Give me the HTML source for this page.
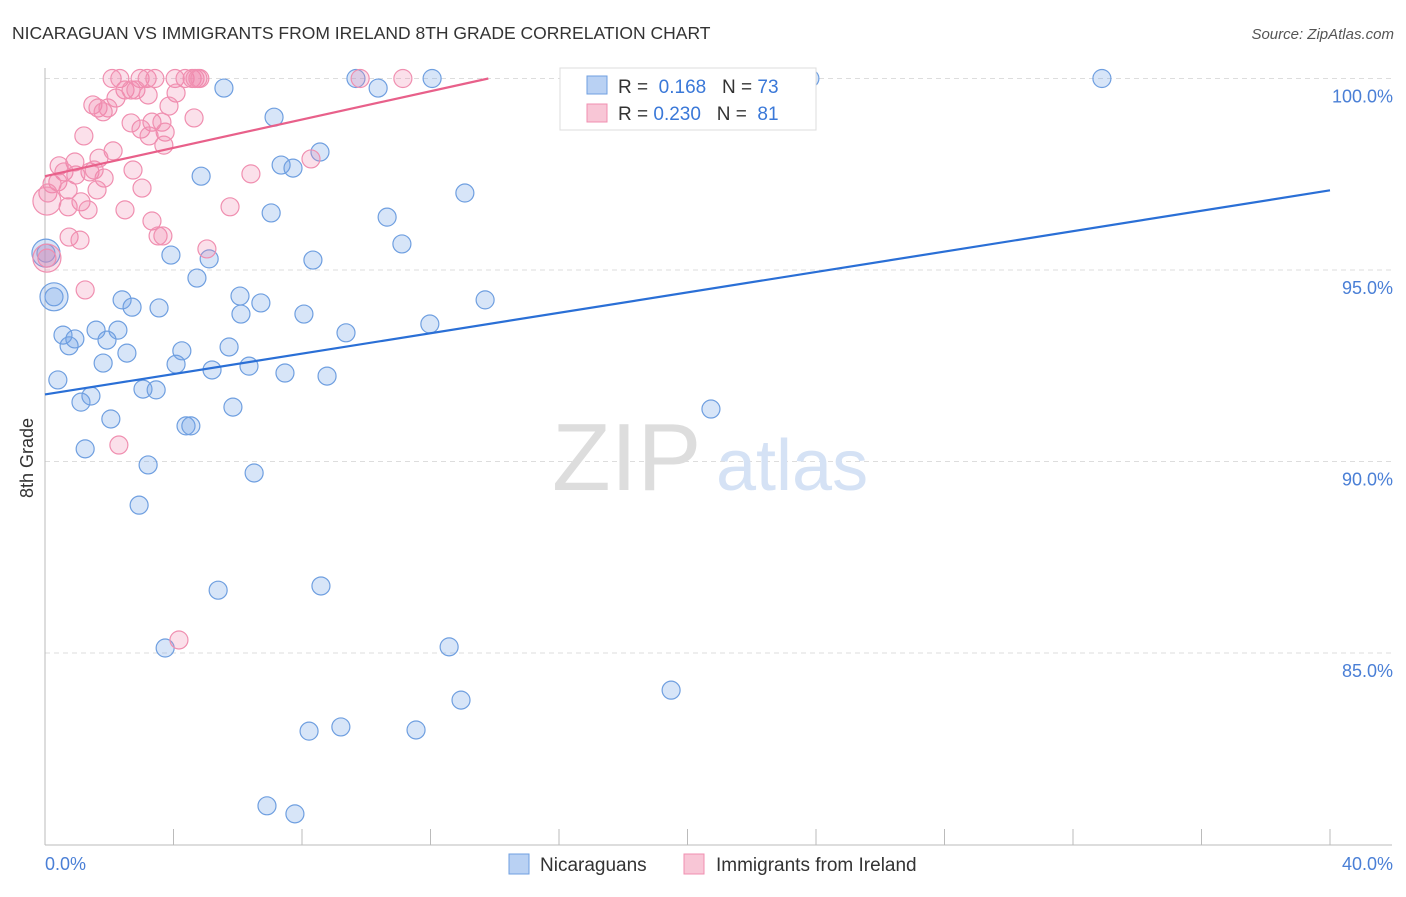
<!DOCTYPE html>
<html><head><meta charset="utf-8"><style>
body{margin:0;background:#fff;font-family:"Liberation Sans",sans-serif}
svg text{font-family:"Liberation Sans",sans-serif}
</style></head><body>
<svg id="c" width="1406" height="892">
<text x="12" y="39" font-size="17.5" fill="#333">NICARAGUAN VS IMMIGRANTS FROM IRELAND 8TH GRADE CORRELATION CHART</text>
<text x="1394" y="39" font-size="15" fill="#555" text-anchor="end" font-style="italic">Source: ZipAtlas.com</text>
<text x="33" y="458" font-size="18" fill="#333" transform="rotate(-90 33 458)" text-anchor="middle">8th Grade</text>
<g id="grid"></g>
<g id="axes"></g>
<text x="552" y="490" font-size="96" fill="#ddd" font-family="Liberation Serif">ZIP</text>
<text x="716" y="490" font-size="72" fill="#d5e2f5">atlas</text>
<g id="pts"></g>
<g id="lines"></g>
<g>
<rect x="560" y="68" width="256" height="62" fill="#fff" stroke="#ddd"/>
<rect x="587" y="76" width="20" height="18" fill="#b9d1f3" stroke="#6f9fe0"/>
<text x="618" y="93" font-size="19" fill="#333">R = <tspan fill="#3a78d8">&#160;0.168</tspan>&#160;&#160;&#160;N = <tspan fill="#3a78d8">73</tspan></text>
<rect x="587" y="104" width="20" height="18" fill="#f8c6d6" stroke="#f08fb0"/>
<text x="618" y="120" font-size="19" fill="#333">R = <tspan fill="#3a78d8">0.230</tspan>&#160;&#160;&#160;N = <tspan fill="#3a78d8">&#160;81</tspan></text>
</g>
<g>
<rect x="509" y="854" width="20" height="20" fill="#b9d1f3" stroke="#6f9fe0"/>
<text x="540" y="871" font-size="19" fill="#333">Nicaraguans</text>
<rect x="684" y="854" width="20" height="20" fill="#f8c6d6" stroke="#f08fb0"/>
<text x="716" y="871" font-size="19" fill="#333">Immigrants from Ireland</text>
</g>
</svg>
<script>
const yTicks=[100,95,90,85];
const xTickLabels=["0.0%","40.0%"];
const blueX=[5.57,9.68,10.37,12.05,16.9,21.01,23.81,32.9,7.13,8.56,4.86,7.35,7.72,13.07,7.04,10.65,11.11,3.92,5.11,8.34,0.03,0.28,4.73,2.40,2.71,3.55,6.07,6.72,6.10,8.06,13.70,11.98,0.56,0.93,1.59,2.27,0.75,1.93,2.55,9.37,4.26,5.73,1.81,4.08,5.20,6.35,7.47,8.78,0.40,3.05,3.46,1.43,1.12,5.85,20.73,2.05,4.39,4.54,1.25,3.21,6.51,2.93,5.39,8.59,3.74,12.58,19.49,12.95,8.22,9.21,11.55,6.91,7.78];
const blueY=[99.75,100,99.75,100,100,100,100,100,98.99,98.08,97.45,97.74,97.66,97.01,96.49,96.38,95.68,95.39,95.29,95.26,95.44,94.30,94.79,94.22,94.03,94.01,94.32,94.14,93.85,93.85,94.22,93.59,93.30,93.20,93.43,93.43,93.02,93.17,92.83,93.36,92.89,92.99,92.57,92.54,92.39,92.49,92.31,92.23,92.13,91.89,91.87,91.71,91.55,91.42,91.37,91.11,90.93,90.93,90.33,89.91,89.70,88.86,86.64,86.75,85.13,85.16,84.03,83.77,82.96,83.07,82.99,81.01,80.80];
const pinkX=[2.09,2.33,2.96,3.18,3.42,4.05,4.36,4.58,4.67,4.76,4.82,9.81,11.14,2.49,2.68,2.83,3.21,4.08,2.21,1.49,1.65,1.96,1.81,3.86,4.64,2.68,3.33,3.64,2.99,3.74,3.24,1.21,3.70,2.12,1.68,8.28,0.93,0.44,0.59,1.40,1.84,0.96,1.53,2.74,6.41,0.22,0.40,0.09,0.72,1.62,3.02,1.12,0.72,1.34,2.49,5.76,3.33,3.52,3.67,0.75,1.09,5.04,0.06,1.25,2.30,4.17];
const pinkY=[100,100,100,100,100,100,100,100,100,100,100,100,100,99.70,99.70,99.70,99.57,99.62,99.49,99.31,99.23,99.23,99.13,99.28,98.97,98.84,98.86,98.86,98.68,98.60,98.50,98.50,98.26,98.11,97.92,97.90,97.82,97.72,97.56,97.56,97.40,97.48,97.61,97.61,97.51,97.25,97.30,97.01,97.09,97.09,97.14,96.78,96.65,96.57,96.57,96.65,96.28,95.89,95.89,95.86,95.78,95.55,95.31,94.48,90.43,85.34];
const bigBlue=[[0.03,95.44],[0.28,94.30]];
const bigPink=[[0.06,95.31],[0.06,96.8]];
const blueTrend=[[0,91.75],[40,97.08]];
const pinkTrend=[[0,97.45],[13.8,100]];
const NS="http://www.w3.org/2000/svg";
const X0=45,X1=1330,YT=78.5,PY=38.3;
const sx=v=>X0+(v/40)*(X1-X0);
const sy=v=>YT+(100-v)*PY;
function mk(t,a,p){const e=document.createElementNS(NS,t);for(const k in a)e.setAttribute(k,a[k]);p.appendChild(e);return e;}
const grid=document.getElementById('grid'),axes=document.getElementById('axes');
yTicks.forEach(t=>{
 const l=mk('line',{x1:X0,x2:1392,y1:sy(t),y2:sy(t),stroke:'#ddd','stroke-dasharray':'5,4'},grid);
 
 
 const tx=mk('text',{x:1393,y:sy(t)+24,'font-size':18,fill:'#4a7fd6','text-anchor':'end'},axes);
 tx.textContent=t.toFixed(1)+'%';
 
 
});
mk('line',{x1:X0,x2:X0,y1:68,y2:845,stroke:'#bbb'},axes);
mk('line',{x1:X0,x2:1392,y1:845,y2:845,stroke:'#bbb'},axes);
for(let i=0;i<=10;i++){const l=mk('line',{x1:sx(i*4),x2:sx(i*4),y1:829,y2:845,stroke:'#bbb'},axes);
 
 }
[[0,'start',X0],[1,'end',1393]].forEach(([i,a,x])=>{const t=mk('text',{x:x,y:870,'font-size':18,fill:'#4a7fd6','text-anchor':a},axes);t.textContent=xTickLabels[i];
 
 });
const pts=document.getElementById('pts');
function dot(x,y,r,c,name){const e=mk('circle',{cx:sx(x),cy:sy(y),r:r,fill:c[0],stroke:c[1],'stroke-width':1.2},pts);
 
 }
const BC=['rgba(110,160,230,0.28)','#6f9fe0'],PC=['rgba(240,130,170,0.25)','#f08fb0'];
blueX.forEach((x,i)=>dot(x,blueY[i],9,BC,'nicaraguan-point'));
bigBlue.forEach(p=>dot(p[0],p[1],14,BC,'nicaraguan-point'));
pinkX.forEach((x,i)=>dot(x,pinkY[i],9,PC,'ireland-point'));
bigPink.forEach(p=>dot(p[0],p[1],14,PC,'ireland-point'));
const lines=document.getElementById('lines');
const bl=mk('line',{x1:sx(blueTrend[0][0]),y1:sy(blueTrend[0][1]),x2:sx(blueTrend[1][0]),y2:sy(blueTrend[1][1]),stroke:'#2a6fd6','stroke-width':2.2},lines);


const pl=mk('line',{x1:sx(pinkTrend[0][0]),y1:sy(pinkTrend[0][1]),x2:sx(pinkTrend[1][0]),y2:sy(pinkTrend[1][1]),stroke:'#e8608a','stroke-width':2.2},lines);


</script>
</body></html>
